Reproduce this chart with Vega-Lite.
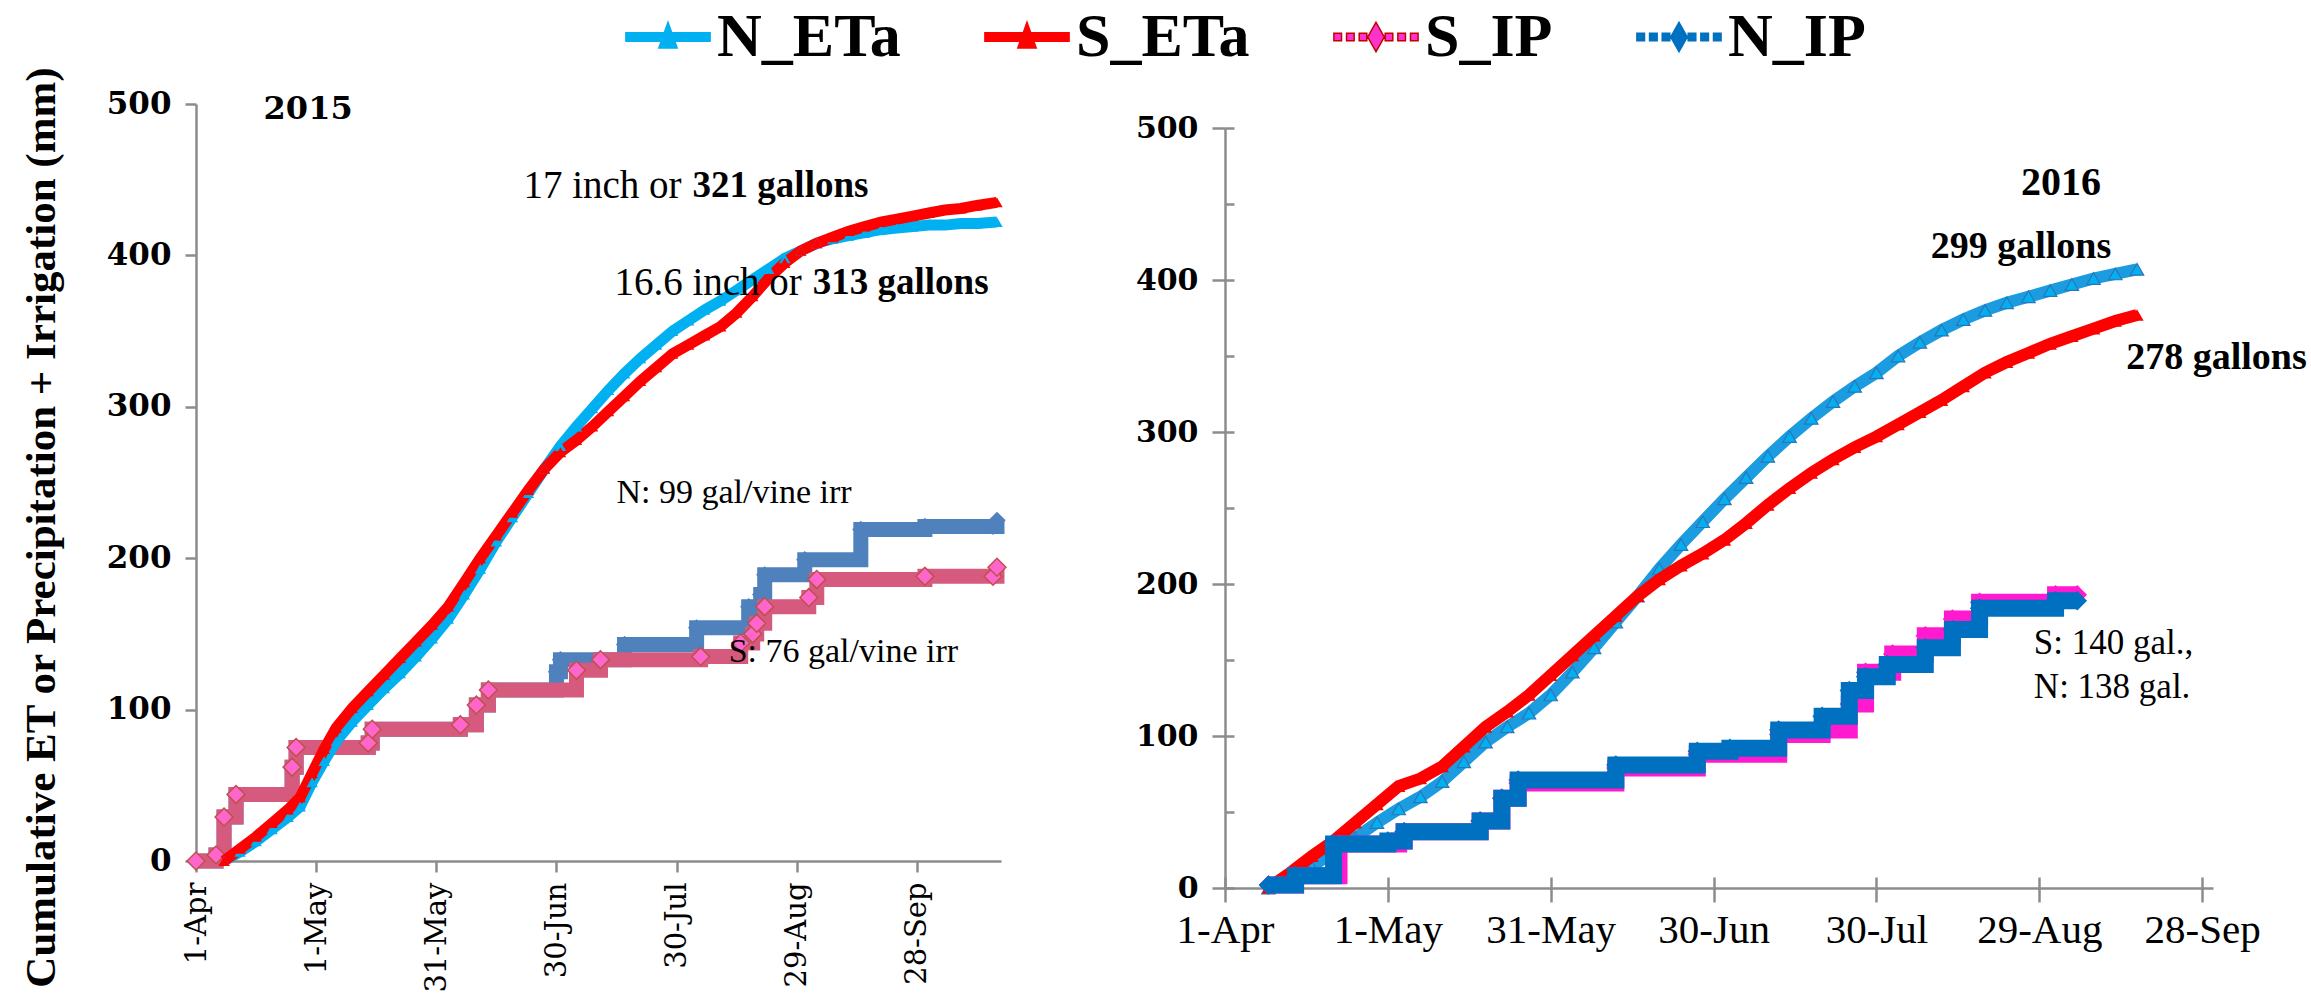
{
"$schema":"https://vega.github.io/schema/vega-lite/v6.json",
"background":"white",
"padding":{"left":19,"top":6,"right":0,"bottom":0},
"config":{"view":{"stroke":null},"axis":{"grid":false,"domainColor":"#8C8C8C","tickColor":"#8C8C8C","domainWidth":2.5,"tickWidth":2.5,"labelColor":"#000000","titleColor":"#000000","labelOverlap":false,"labelFlush":false,"labelBound":false}},
"spacing":224,
"bounds":"flush",
"resolve":{"scale":{"color":"shared"},"legend":{"color":"shared"}},
"datasets":{"main":[
{"p":"L","s":"N_ETa","d":"2015-04-08","v":0},{"p":"L","s":"N_ETa","d":"2015-04-12","v":6},{"p":"L","s":"N_ETa","d":"2015-04-16","v":13},{"p":"L","s":"N_ETa","d":"2015-04-20","v":21},{"p":"L","s":"N_ETa","d":"2015-04-24","v":29},{"p":"L","s":"N_ETa","d":"2015-04-27","v":36},{"p":"L","s":"N_ETa","d":"2015-04-30","v":52},{"p":"L","s":"N_ETa","d":"2015-05-03","v":66},{"p":"L","s":"N_ETa","d":"2015-05-06","v":79},{"p":"L","s":"N_ETa","d":"2015-05-10","v":92},
{"p":"L","s":"N_ETa","d":"2015-05-14","v":103},{"p":"L","s":"N_ETa","d":"2015-05-18","v":114},{"p":"L","s":"N_ETa","d":"2015-05-22","v":124},{"p":"L","s":"N_ETa","d":"2015-05-26","v":135},{"p":"L","s":"N_ETa","d":"2015-05-30","v":147},{"p":"L","s":"N_ETa","d":"2015-06-03","v":160},{"p":"L","s":"N_ETa","d":"2015-06-07","v":176},{"p":"L","s":"N_ETa","d":"2015-06-11","v":193},{"p":"L","s":"N_ETa","d":"2015-06-15","v":211},{"p":"L","s":"N_ETa","d":"2015-06-19","v":227},
{"p":"L","s":"N_ETa","d":"2015-06-23","v":243},{"p":"L","s":"N_ETa","d":"2015-06-27","v":259},{"p":"L","s":"N_ETa","d":"2015-07-01","v":274},{"p":"L","s":"N_ETa","d":"2015-07-05","v":287},{"p":"L","s":"N_ETa","d":"2015-07-09","v":299},{"p":"L","s":"N_ETa","d":"2015-07-13","v":311},{"p":"L","s":"N_ETa","d":"2015-07-17","v":322},{"p":"L","s":"N_ETa","d":"2015-07-21","v":332},{"p":"L","s":"N_ETa","d":"2015-07-25","v":341},{"p":"L","s":"N_ETa","d":"2015-07-29","v":350},
{"p":"L","s":"N_ETa","d":"2015-08-02","v":357},{"p":"L","s":"N_ETa","d":"2015-08-06","v":364},{"p":"L","s":"N_ETa","d":"2015-08-10","v":370},{"p":"L","s":"N_ETa","d":"2015-08-14","v":377},{"p":"L","s":"N_ETa","d":"2015-08-18","v":384},{"p":"L","s":"N_ETa","d":"2015-08-22","v":391},{"p":"L","s":"N_ETa","d":"2015-08-26","v":398},{"p":"L","s":"N_ETa","d":"2015-08-30","v":403},{"p":"L","s":"N_ETa","d":"2015-09-03","v":408},{"p":"L","s":"N_ETa","d":"2015-09-07","v":411},
{"p":"L","s":"N_ETa","d":"2015-09-11","v":413},{"p":"L","s":"N_ETa","d":"2015-09-15","v":415},{"p":"L","s":"N_ETa","d":"2015-09-19","v":417},{"p":"L","s":"N_ETa","d":"2015-09-23","v":418},{"p":"L","s":"N_ETa","d":"2015-09-27","v":419},{"p":"L","s":"N_ETa","d":"2015-10-01","v":420},{"p":"L","s":"N_ETa","d":"2015-10-05","v":420},{"p":"L","s":"N_ETa","d":"2015-10-09","v":421},{"p":"L","s":"N_ETa","d":"2015-10-13","v":421},{"p":"L","s":"N_ETa","d":"2015-10-18","v":422},
{"p":"L","s":"S_ETa","d":"2015-04-08","v":0},{"p":"L","s":"S_ETa","d":"2015-04-12","v":8},{"p":"L","s":"S_ETa","d":"2015-04-16","v":16},{"p":"L","s":"S_ETa","d":"2015-04-20","v":25},{"p":"L","s":"S_ETa","d":"2015-04-24","v":34},{"p":"L","s":"S_ETa","d":"2015-04-27","v":42},{"p":"L","s":"S_ETa","d":"2015-04-30","v":58},{"p":"L","s":"S_ETa","d":"2015-05-03","v":74},{"p":"L","s":"S_ETa","d":"2015-05-06","v":88},{"p":"L","s":"S_ETa","d":"2015-05-10","v":101},
{"p":"L","s":"S_ETa","d":"2015-05-14","v":112},{"p":"L","s":"S_ETa","d":"2015-05-18","v":123},{"p":"L","s":"S_ETa","d":"2015-05-22","v":134},{"p":"L","s":"S_ETa","d":"2015-05-26","v":145},{"p":"L","s":"S_ETa","d":"2015-05-30","v":156},{"p":"L","s":"S_ETa","d":"2015-06-03","v":168},{"p":"L","s":"S_ETa","d":"2015-06-07","v":184},{"p":"L","s":"S_ETa","d":"2015-06-11","v":200},{"p":"L","s":"S_ETa","d":"2015-06-15","v":215},{"p":"L","s":"S_ETa","d":"2015-06-19","v":230},
{"p":"L","s":"S_ETa","d":"2015-06-23","v":245},{"p":"L","s":"S_ETa","d":"2015-06-27","v":259},{"p":"L","s":"S_ETa","d":"2015-07-01","v":270},{"p":"L","s":"S_ETa","d":"2015-07-05","v":278},{"p":"L","s":"S_ETa","d":"2015-07-09","v":287},{"p":"L","s":"S_ETa","d":"2015-07-13","v":297},{"p":"L","s":"S_ETa","d":"2015-07-17","v":307},{"p":"L","s":"S_ETa","d":"2015-07-21","v":317},{"p":"L","s":"S_ETa","d":"2015-07-25","v":326},{"p":"L","s":"S_ETa","d":"2015-07-29","v":335},
{"p":"L","s":"S_ETa","d":"2015-08-02","v":341},{"p":"L","s":"S_ETa","d":"2015-08-06","v":347},{"p":"L","s":"S_ETa","d":"2015-08-10","v":353},{"p":"L","s":"S_ETa","d":"2015-08-14","v":362},{"p":"L","s":"S_ETa","d":"2015-08-18","v":373},{"p":"L","s":"S_ETa","d":"2015-08-22","v":385},{"p":"L","s":"S_ETa","d":"2015-08-26","v":395},{"p":"L","s":"S_ETa","d":"2015-08-30","v":403},{"p":"L","s":"S_ETa","d":"2015-09-03","v":408},{"p":"L","s":"S_ETa","d":"2015-09-07","v":412},
{"p":"L","s":"S_ETa","d":"2015-09-11","v":416},{"p":"L","s":"S_ETa","d":"2015-09-15","v":419},{"p":"L","s":"S_ETa","d":"2015-09-19","v":422},{"p":"L","s":"S_ETa","d":"2015-09-23","v":424},{"p":"L","s":"S_ETa","d":"2015-09-27","v":426},{"p":"L","s":"S_ETa","d":"2015-10-01","v":428},{"p":"L","s":"S_ETa","d":"2015-10-05","v":430},{"p":"L","s":"S_ETa","d":"2015-10-09","v":431},{"p":"L","s":"S_ETa","d":"2015-10-13","v":433},{"p":"L","s":"S_ETa","d":"2015-10-18","v":435},
{"p":"L","s":"S_IP","d":"2015-04-01","v":0},{"p":"L","s":"S_IP","d":"2015-04-06","v":4},{"p":"L","s":"S_IP","d":"2015-04-08","v":29},{"p":"L","s":"S_IP","d":"2015-04-11","v":44},{"p":"L","s":"S_IP","d":"2015-04-25","v":62},{"p":"L","s":"S_IP","d":"2015-04-26","v":75},{"p":"L","s":"S_IP","d":"2015-05-14","v":78},{"p":"L","s":"S_IP","d":"2015-05-15","v":87},{"p":"L","s":"S_IP","d":"2015-06-06","v":90},{"p":"L","s":"S_IP","d":"2015-06-10","v":103},{"p":"L","s":"S_IP","d":"2015-06-13","v":113},{"p":"L","s":"S_IP","d":"2015-07-05","v":126},{"p":"L","s":"S_IP","d":"2015-07-11","v":133},{"p":"L","s":"S_IP","d":"2015-08-05","v":135},{"p":"L","s":"S_IP","d":"2015-08-15","v":144},{"p":"L","s":"S_IP","d":"2015-08-18","v":150},{"p":"L","s":"S_IP","d":"2015-08-19","v":157},{"p":"L","s":"S_IP","d":"2015-08-21","v":168},{"p":"L","s":"S_IP","d":"2015-09-01","v":174},{"p":"L","s":"S_IP","d":"2015-09-03","v":186},{"p":"L","s":"S_IP","d":"2015-09-30","v":188},{"p":"L","s":"S_IP","d":"2015-10-17","v":188},{"p":"L","s":"S_IP","d":"2015-10-18","v":194},
{"p":"L","s":"N_IP","d":"2015-04-01","v":0},{"p":"L","s":"N_IP","d":"2015-04-06","v":4},{"p":"L","s":"N_IP","d":"2015-04-08","v":29},{"p":"L","s":"N_IP","d":"2015-04-11","v":44},{"p":"L","s":"N_IP","d":"2015-04-25","v":62},{"p":"L","s":"N_IP","d":"2015-04-26","v":75},{"p":"L","s":"N_IP","d":"2015-05-14","v":78},{"p":"L","s":"N_IP","d":"2015-05-15","v":87},{"p":"L","s":"N_IP","d":"2015-06-06","v":90},{"p":"L","s":"N_IP","d":"2015-06-10","v":103},{"p":"L","s":"N_IP","d":"2015-06-13","v":113},{"p":"L","s":"N_IP","d":"2015-06-30","v":125},{"p":"L","s":"N_IP","d":"2015-07-01","v":133},{"p":"L","s":"N_IP","d":"2015-07-17","v":143},{"p":"L","s":"N_IP","d":"2015-08-04","v":154},{"p":"L","s":"N_IP","d":"2015-08-17","v":168},{"p":"L","s":"N_IP","d":"2015-08-20","v":176},{"p":"L","s":"N_IP","d":"2015-08-21","v":189},{"p":"L","s":"N_IP","d":"2015-08-31","v":199},{"p":"L","s":"N_IP","d":"2015-09-14","v":219},{"p":"L","s":"N_IP","d":"2015-09-30","v":221},{"p":"L","s":"N_IP","d":"2015-10-17","v":221},{"p":"L","s":"N_IP","d":"2015-10-18","v":225},
{"p":"R","s":"N_ETa","d":"2016-04-09","v":0},{"p":"R","s":"N_ETa","d":"2016-04-13","v":6},{"p":"R","s":"N_ETa","d":"2016-04-17","v":14},{"p":"R","s":"N_ETa","d":"2016-04-21","v":24},{"p":"R","s":"N_ETa","d":"2016-04-25","v":33},{"p":"R","s":"N_ETa","d":"2016-04-29","v":43},{"p":"R","s":"N_ETa","d":"2016-05-03","v":52},{"p":"R","s":"N_ETa","d":"2016-05-07","v":60},{"p":"R","s":"N_ETa","d":"2016-05-11","v":70},{"p":"R","s":"N_ETa","d":"2016-05-15","v":83},
{"p":"R","s":"N_ETa","d":"2016-05-19","v":96},{"p":"R","s":"N_ETa","d":"2016-05-23","v":106},{"p":"R","s":"N_ETa","d":"2016-05-27","v":115},{"p":"R","s":"N_ETa","d":"2016-05-31","v":127},{"p":"R","s":"N_ETa","d":"2016-06-04","v":142},{"p":"R","s":"N_ETa","d":"2016-06-08","v":158},{"p":"R","s":"N_ETa","d":"2016-06-12","v":175},{"p":"R","s":"N_ETa","d":"2016-06-16","v":192},{"p":"R","s":"N_ETa","d":"2016-06-20","v":210},{"p":"R","s":"N_ETa","d":"2016-06-24","v":226},
{"p":"R","s":"N_ETa","d":"2016-06-28","v":241},{"p":"R","s":"N_ETa","d":"2016-07-02","v":256},{"p":"R","s":"N_ETa","d":"2016-07-06","v":270},{"p":"R","s":"N_ETa","d":"2016-07-10","v":284},{"p":"R","s":"N_ETa","d":"2016-07-14","v":297},{"p":"R","s":"N_ETa","d":"2016-07-18","v":309},{"p":"R","s":"N_ETa","d":"2016-07-22","v":320},{"p":"R","s":"N_ETa","d":"2016-07-26","v":330},{"p":"R","s":"N_ETa","d":"2016-07-30","v":339},{"p":"R","s":"N_ETa","d":"2016-08-03","v":350},
{"p":"R","s":"N_ETa","d":"2016-08-07","v":359},{"p":"R","s":"N_ETa","d":"2016-08-11","v":367},{"p":"R","s":"N_ETa","d":"2016-08-15","v":374},{"p":"R","s":"N_ETa","d":"2016-08-19","v":380},{"p":"R","s":"N_ETa","d":"2016-08-23","v":385},{"p":"R","s":"N_ETa","d":"2016-08-27","v":389},{"p":"R","s":"N_ETa","d":"2016-08-31","v":393},{"p":"R","s":"N_ETa","d":"2016-09-04","v":397},{"p":"R","s":"N_ETa","d":"2016-09-08","v":401},{"p":"R","s":"N_ETa","d":"2016-09-12","v":404},{"p":"R","s":"N_ETa","d":"2016-09-16","v":407},
{"p":"R","s":"S_ETa","d":"2016-04-09","v":0},{"p":"R","s":"S_ETa","d":"2016-04-13","v":10},{"p":"R","s":"S_ETa","d":"2016-04-17","v":21},{"p":"R","s":"S_ETa","d":"2016-04-21","v":31},{"p":"R","s":"S_ETa","d":"2016-04-25","v":43},{"p":"R","s":"S_ETa","d":"2016-04-29","v":55},{"p":"R","s":"S_ETa","d":"2016-05-03","v":67},{"p":"R","s":"S_ETa","d":"2016-05-07","v":72},{"p":"R","s":"S_ETa","d":"2016-05-11","v":80},{"p":"R","s":"S_ETa","d":"2016-05-15","v":93},
{"p":"R","s":"S_ETa","d":"2016-05-19","v":106},{"p":"R","s":"S_ETa","d":"2016-05-23","v":116},{"p":"R","s":"S_ETa","d":"2016-05-27","v":127},{"p":"R","s":"S_ETa","d":"2016-05-31","v":140},{"p":"R","s":"S_ETa","d":"2016-06-04","v":153},{"p":"R","s":"S_ETa","d":"2016-06-08","v":166},{"p":"R","s":"S_ETa","d":"2016-06-12","v":179},{"p":"R","s":"S_ETa","d":"2016-06-16","v":192},{"p":"R","s":"S_ETa","d":"2016-06-20","v":203},{"p":"R","s":"S_ETa","d":"2016-06-24","v":212},
{"p":"R","s":"S_ETa","d":"2016-06-28","v":220},{"p":"R","s":"S_ETa","d":"2016-07-02","v":229},{"p":"R","s":"S_ETa","d":"2016-07-06","v":240},{"p":"R","s":"S_ETa","d":"2016-07-10","v":252},{"p":"R","s":"S_ETa","d":"2016-07-14","v":263},{"p":"R","s":"S_ETa","d":"2016-07-18","v":273},{"p":"R","s":"S_ETa","d":"2016-07-22","v":282},{"p":"R","s":"S_ETa","d":"2016-07-26","v":290},{"p":"R","s":"S_ETa","d":"2016-07-30","v":297},{"p":"R","s":"S_ETa","d":"2016-08-03","v":305},
{"p":"R","s":"S_ETa","d":"2016-08-07","v":313},{"p":"R","s":"S_ETa","d":"2016-08-11","v":321},{"p":"R","s":"S_ETa","d":"2016-08-15","v":330},{"p":"R","s":"S_ETa","d":"2016-08-19","v":339},{"p":"R","s":"S_ETa","d":"2016-08-23","v":346},{"p":"R","s":"S_ETa","d":"2016-08-27","v":352},{"p":"R","s":"S_ETa","d":"2016-08-31","v":358},{"p":"R","s":"S_ETa","d":"2016-09-04","v":363},{"p":"R","s":"S_ETa","d":"2016-09-08","v":368},{"p":"R","s":"S_ETa","d":"2016-09-12","v":373},{"p":"R","s":"S_ETa","d":"2016-09-16","v":377},
{"p":"R","s":"S_IP","d":"2016-04-09","v":2},{"p":"R","s":"S_IP","d":"2016-04-14","v":8},{"p":"R","s":"S_IP","d":"2016-04-22","v":29},{"p":"R","s":"S_IP","d":"2016-05-03","v":31},{"p":"R","s":"S_IP","d":"2016-05-04","v":37},{"p":"R","s":"S_IP","d":"2016-05-18","v":44},{"p":"R","s":"S_IP","d":"2016-05-22","v":59},{"p":"R","s":"S_IP","d":"2016-05-25","v":69},{"p":"R","s":"S_IP","d":"2016-06-12","v":79},{"p":"R","s":"S_IP","d":"2016-06-27","v":88},{"p":"R","s":"S_IP","d":"2016-07-12","v":101},{"p":"R","s":"S_IP","d":"2016-07-20","v":104},{"p":"R","s":"S_IP","d":"2016-07-25","v":121},{"p":"R","s":"S_IP","d":"2016-07-28","v":142},{"p":"R","s":"S_IP","d":"2016-08-02","v":154},{"p":"R","s":"S_IP","d":"2016-08-08","v":166},{"p":"R","s":"S_IP","d":"2016-08-13","v":177},{"p":"R","s":"S_IP","d":"2016-08-18","v":188},{"p":"R","s":"S_IP","d":"2016-09-01","v":193},{"p":"R","s":"S_IP","d":"2016-09-05","v":193},
{"p":"R","s":"N_IP","d":"2016-04-09","v":2},{"p":"R","s":"N_IP","d":"2016-04-14","v":8},{"p":"R","s":"N_IP","d":"2016-04-21","v":29},{"p":"R","s":"N_IP","d":"2016-05-01","v":31},{"p":"R","s":"N_IP","d":"2016-05-04","v":37},{"p":"R","s":"N_IP","d":"2016-05-18","v":44},{"p":"R","s":"N_IP","d":"2016-05-22","v":59},{"p":"R","s":"N_IP","d":"2016-05-25","v":71},{"p":"R","s":"N_IP","d":"2016-06-12","v":81},{"p":"R","s":"N_IP","d":"2016-06-27","v":90},{"p":"R","s":"N_IP","d":"2016-07-03","v":92},{"p":"R","s":"N_IP","d":"2016-07-12","v":104},{"p":"R","s":"N_IP","d":"2016-07-20","v":113},{"p":"R","s":"N_IP","d":"2016-07-25","v":130},{"p":"R","s":"N_IP","d":"2016-07-28","v":139},{"p":"R","s":"N_IP","d":"2016-08-01","v":147},{"p":"R","s":"N_IP","d":"2016-08-08","v":158},{"p":"R","s":"N_IP","d":"2016-08-13","v":170},{"p":"R","s":"N_IP","d":"2016-08-18","v":184},{"p":"R","s":"N_IP","d":"2016-09-01","v":189},{"p":"R","s":"N_IP","d":"2016-09-05","v":189},
{"p":"L","s":"note","k":"yr","d":"2015-04-29","v":497,"t":"2015"},
{"p":"L","s":"note","k":"r","d":"2015-08-03","v":446,"t":"17 inch or"},
{"p":"L","s":"note","k":"b","d":"2015-08-03","v":446,"t":"321 gallons"},
{"p":"L","s":"note","k":"r","d":"2015-09-02","v":382,"t":"16.6 inch or"},
{"p":"L","s":"note","k":"b","d":"2015-09-02","v":382,"t":"313 gallons"},
{"p":"L","s":"note","k":"l","d":"2015-07-15","v":243,"t":"N: 99 gal/vine irr"},
{"p":"L","s":"note","k":"l","d":"2015-08-12","v":138,"t":"S: 76 gal/vine irr"},
{"p":"R","s":"note","k":"yr","d":"2016-09-02","v":464,"t":"2016"},
{"p":"R","s":"note","k":"b","d":"2016-08-09","v":422,"t":"299 gallons"},
{"p":"R","s":"note","k":"b","d":"2016-09-14","v":349,"t":"278 gallons"},
{"p":"R","s":"note","k":"l","d":"2016-08-28","v":161,"t":"S: 140 gal.,"},
{"p":"R","s":"note","k":"l","d":"2016-08-28","v":132,"t":"N: 138 gal."}
]},
"hconcat":[
{
"width":805,"height":757,
"data":{"name":"main"},
"transform":[{"filter":"datum.p=='L'"}],
"encoding":{
"x":{"field":"d","type":"temporal","scale":{"type":"utc","domain":[{"year":2015,"month":4,"date":1,"utc":true},{"year":2015,"month":10,"date":19,"utc":true}]},
"axis":{"title":null,"values":[{"year":2015,"month":4,"date":1,"utc":true},{"year":2015,"month":5,"date":1,"utc":true},{"year":2015,"month":5,"date":31,"utc":true},{"year":2015,"month":6,"date":30,"utc":true},{"year":2015,"month":7,"date":30,"utc":true},{"year":2015,"month":8,"date":29,"utc":true},{"year":2015,"month":9,"date":28,"utc":true}],"format":"%-d-%b","labelAngle":-90,"labelFont":"DejaVu Serif","labelFontSize":29,"tickSize":11,"labelPadding":10}},
"y":{"field":"v","type":"quantitative","scale":{"domain":[0,500],"nice":false},
"axis":{"values":[0,100,200,300,400,500],"labelFont":"DejaVu Serif","labelFontWeight":"bold","labelFontSize":31,"tickSize":11,"labelPadding":14,"title":"Cumulative ET or Precipitation + Irrigation (mm)","titleFont":"Liberation Serif","titleFontSize":43,"titleFontWeight":"bold","titleX":-133,"titleY":423}}
},
"layer":[
{"transform":[{"filter":"datum.s=='N_IP'"}],"mark":{"type":"line","interpolate":"step-after","color":"#4F81BD","strokeWidth":15}},
{"transform":[{"filter":"datum.s=='N_IP'"}],"mark":{"type":"point","shape":"diamond","filled":true,"color":"#4F81BD","size":300,"opacity":1}},
{"transform":[{"filter":"datum.s=='S_IP'"}],"mark":{"type":"line","interpolate":"step-after","color":"#D65A7E","strokeWidth":15}},
{"transform":[{"filter":"datum.s=='S_IP'"}],"mark":{"type":"point","shape":"diamond","filled":true,"fill":"#FF66CC","stroke":"#C0504D","strokeWidth":1.5,"size":320,"opacity":1}},
{"transform":[{"filter":"datum.s=='N_ETa'||datum.s=='S_ETa'"}],"mark":{"type":"line","strokeWidth":11},
"encoding":{"color":{"field":"s","type":"nominal","scale":{"domain":["N_ETa","S_ETa","S_IP","N_IP"],"range":["#00B0F0","#FF0000","#C00000","#0070C0"]},
"legend":{"title":null,"orient":"none","legendX":441,"legendY":-98,"direction":"horizontal","columns":4,"padding":0,"columnPadding":80,"labelFont":"Liberation Serif","labelFontSize":62,"labelFontWeight":"bold","labelColor":"#000000","labelOffset":18,"labelLimit":600,"symbolSize":2116,
"encode":{"symbols":{"update":{
"shape":{"signal":"(datum.value=='N_ETa'||datum.value=='S_ETa') ? 'M-1.83,-0.18H1.83V0.18H-1.83Z M0,-0.64L0.4,0.48H-0.4Z' : 'M-1.83,-0.16H-1.5V0.16H-1.83Z M-1.28,-0.16H-0.95V0.16H-1.28Z M-0.73,-0.16H-0.4V0.16H-0.73Z M0.4,-0.16H0.73V0.16H0.4Z M0.95,-0.16H1.28V0.16H0.95Z M1.5,-0.16H1.83V0.16H1.5Z M0,-0.64L0.36,0L0,0.64L-0.36,0Z'"},
"fill":{"signal":"datum.value=='N_ETa' ? '#00B0F0' : datum.value=='S_ETa' ? '#FF0000' : datum.value=='S_IP' ? '#FF33CC' : '#0070C0'"},
"stroke":{"signal":"datum.value=='N_ETa' ? '#00B0F0' : datum.value=='S_ETa' ? '#FF0000' : datum.value=='S_IP' ? '#C00000' : '#0070C0'"},
"strokeWidth":{"value":1.5},"size":{"value":2116},"opacity":{"value":1},"fillOpacity":{"value":1},"strokeOpacity":{"value":1},"strokeDash":{"value":[]}}}}}}}},
{"transform":[{"filter":"datum.s=='N_ETa'"}],"mark":{"type":"point","shape":"triangle-up","filled":true,"color":"#00B0F0","size":130,"opacity":1}},
{"transform":[{"filter":"datum.s=='S_ETa'"}],"mark":{"type":"point","shape":"triangle-up","filled":true,"color":"#FF0000","size":130,"opacity":1}},
{"transform":[{"filter":"datum.s=='note'&&datum.k=='yr'"}],"mark":{"type":"text","font":"DejaVu Serif","fontWeight":"bold","fontSize":32,"align":"center","baseline":"middle","color":"#000000"},"encoding":{"text":{"field":"t"}}},
{"transform":[{"filter":"datum.s=='note'&&datum.k=='r'"}],"mark":{"type":"text","font":"Liberation Serif","fontSize":39,"align":"right","baseline":"middle","dx":-11,"color":"#000000"},"encoding":{"text":{"field":"t"}}},
{"transform":[{"filter":"datum.s=='note'&&datum.k=='b'"}],"mark":{"type":"text","font":"Liberation Serif","fontWeight":"bold","fontSize":37,"align":"left","baseline":"middle","color":"#000000"},"encoding":{"text":{"field":"t"}}},
{"transform":[{"filter":"datum.s=='note'&&datum.k=='l'"}],"mark":{"type":"text","font":"Liberation Serif","fontSize":34,"align":"left","baseline":"middle","color":"#000000"},"encoding":{"text":{"field":"t"}}}
]
},
{
"spacing":23,
"bounds":"flush",
"vconcat":[
{"width":988,"height":1,"data":{"values":[{"a":1}]},"mark":{"type":"text","text":""}},
{
"width":988,"height":760,
"resolve":{"axis":{"x":"independent","y":"independent"}},
"layer":[
{"data":{"name":"main"},"transform":[{"filter":"datum.p=='R'"}],
"encoding":{
"x":{"field":"d","type":"temporal","scale":{"type":"utc","domain":[{"year":2016,"month":4,"date":1,"utc":true},{"year":2016,"month":9,"date":30,"utc":true}]},
"axis":{"title":null,"values":[{"year":2016,"month":4,"date":1,"utc":true},{"year":2016,"month":5,"date":1,"utc":true},{"year":2016,"month":5,"date":31,"utc":true},{"year":2016,"month":6,"date":30,"utc":true},{"year":2016,"month":7,"date":30,"utc":true},{"year":2016,"month":8,"date":29,"utc":true},{"year":2016,"month":9,"date":28,"utc":true}],"format":"%-d-%b","labelAngle":0,"labelFont":"Liberation Serif","labelFontSize":41,"tickSize":14,"labelPadding":8,"labelBaseline":"top"}},
"y":{"field":"v","type":"quantitative","scale":{"domain":[0,500],"nice":false},
"axis":{"title":null,"values":[0,100,200,300,400,500],"labelFont":"DejaVu Serif","labelFontWeight":"bold","labelFontSize":30,"tickSize":13,"labelPadding":14}}
},
"layer":[
{"transform":[{"filter":"datum.s=='N_ETa'"}],"mark":{"type":"line","color":"#1C9CE0","strokeWidth":12}},
{"transform":[{"filter":"datum.s=='N_ETa'"}],"mark":{"type":"point","shape":"triangle-up","filled":true,"fill":"#00B0F0","stroke":"#2E75B6","strokeWidth":1.2,"size":180,"opacity":1}},
{"transform":[{"filter":"datum.s=='S_ETa'"}],"mark":{"type":"line","color":"#FF0000","strokeWidth":12}},
{"transform":[{"filter":"datum.s=='S_ETa'"}],"mark":{"type":"point","shape":"triangle-up","filled":true,"color":"#FF0000","size":180,"opacity":1}},
{"transform":[{"filter":"datum.s=='S_IP'"}],"mark":{"type":"line","interpolate":"step-after","color":"#FF19CF","strokeWidth":17}},
{"transform":[{"filter":"datum.s=='S_IP'"}],"mark":{"type":"point","shape":"diamond","filled":true,"color":"#FF19CF","size":380,"opacity":1}},
{"transform":[{"filter":"datum.s=='N_IP'"}],"mark":{"type":"line","interpolate":"step-after","color":"#0070C0","strokeWidth":17}},
{"transform":[{"filter":"datum.s=='N_IP'"}],"mark":{"type":"point","shape":"diamond","filled":true,"color":"#0070C0","size":380,"opacity":1}},
{"transform":[{"filter":"datum.s=='note'&&datum.k=='yr'"}],"mark":{"type":"text","font":"Liberation Serif","fontWeight":"bold","fontSize":40,"align":"center","baseline":"middle","color":"#000000"},"encoding":{"text":{"field":"t"}}},
{"transform":[{"filter":"datum.s=='note'&&datum.k=='b'"}],"mark":{"type":"text","font":"Liberation Serif","fontWeight":"bold","fontSize":38,"align":"left","baseline":"middle","color":"#000000"},"encoding":{"text":{"field":"t"}}},
{"transform":[{"filter":"datum.s=='note'&&datum.k=='l'"}],"mark":{"type":"text","font":"Liberation Serif","fontSize":35,"align":"left","baseline":"middle","color":"#000000"},"encoding":{"text":{"field":"t"}}}
]
},
{"data":{"name":"main"},"transform":[{"filter":"datum.p=='R'&&datum.s=='N_IP'"}],"mark":{"type":"point","opacity":0},
"encoding":{
"x":{"field":"d","type":"temporal","scale":{"type":"utc","domain":[{"year":2016,"month":4,"date":1,"utc":true},{"year":2016,"month":9,"date":30,"utc":true}]},
"axis":{"orient":"top","offset":-760,"title":null,"labels":false,"domain":false,"tickSize":11,"values":[{"year":2016,"month":4,"date":1,"utc":true},{"year":2016,"month":5,"date":1,"utc":true},{"year":2016,"month":5,"date":31,"utc":true},{"year":2016,"month":6,"date":30,"utc":true},{"year":2016,"month":7,"date":30,"utc":true},{"year":2016,"month":8,"date":29,"utc":true},{"year":2016,"month":9,"date":28,"utc":true}]}},
"y":{"field":"v","type":"quantitative","scale":{"domain":[0,500],"nice":false},
"axis":{"orient":"right","offset":-988,"title":null,"labels":false,"domain":false,"tickSize":9,"values":[0,50,100,150,200,250,300,350,400,450,500]}}
}}
]
}
]
}
]
}
